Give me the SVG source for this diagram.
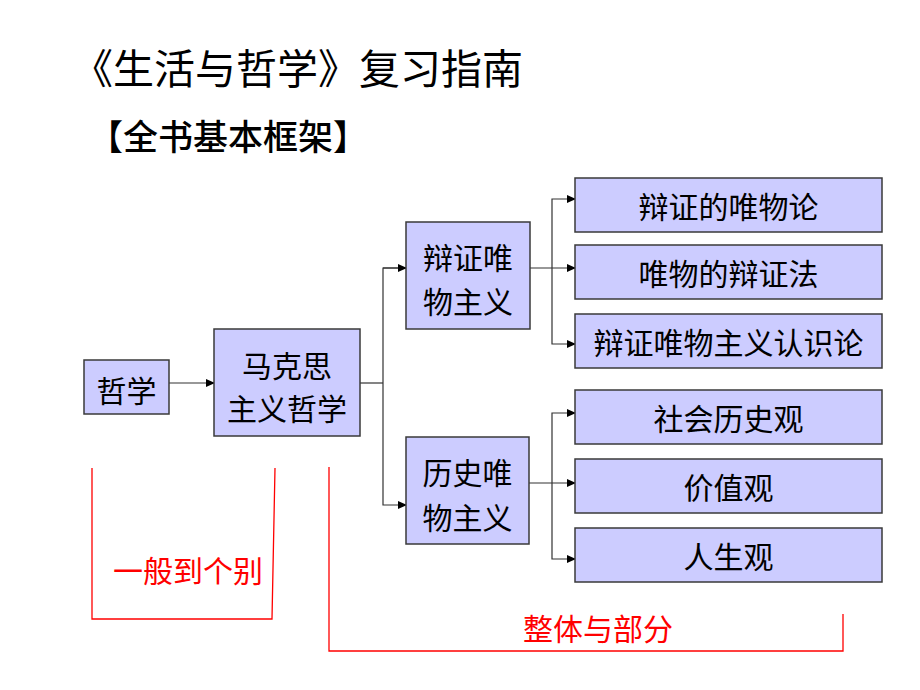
<svg xmlns="http://www.w3.org/2000/svg" width="920" height="690" viewBox="0 0 920 690">
<defs>
<marker id="ah" markerWidth="9" markerHeight="8" refX="8" refY="4" orient="auto" markerUnits="userSpaceOnUse">
<path d="M0,0 L9,4 L0,8 Z" fill="#000"/>
</marker>
</defs>
<style>
.box{fill:#ccccff;stroke:#3a3a3a;stroke-width:1.5}
.t{font-family:"Noto Sans CJK SC","Noto Sans CJK JP",sans-serif;font-size:30px;fill:#000;text-anchor:middle;dominant-baseline:central}
.c{fill:none;stroke:#333;stroke-width:1.2}
.r{fill:none;stroke:#ff0000;stroke-width:1.3}
.rt{font-family:"Noto Sans CJK SC",sans-serif;font-size:30px;fill:#ff0000;text-anchor:middle;dominant-baseline:central}
</style>
<rect width="920" height="690" fill="#fff"/>
<text x="72" y="84" font-family="'Noto Sans CJK SC',sans-serif" font-size="41" fill="#000">《生活与哲学》复习指南</text>
<text x="88" y="150" font-family="'Noto Sans CJK SC',sans-serif" font-size="35" font-weight="500" fill="#000">【全书基本框架】</text>

<g id="connectors">
<line class="c" x1="169" y1="383" x2="214" y2="383" marker-end="url(#ah)"/>
<polyline class="c" points="360,383 383,383"/>
<polyline class="c" points="406,268 383,268 383,505 406,505" marker-end="url(#ah)"/>
<line class="c" x1="383" y1="268" x2="406" y2="268" marker-end="url(#ah)"/>
<line class="c" x1="530" y1="268" x2="575" y2="268" marker-end="url(#ah)"/>
<polyline class="c" points="552,268 552,199 575,199" marker-end="url(#ah)"/>
<polyline class="c" points="552,268 552,344 575,344" marker-end="url(#ah)"/>
<line class="c" x1="529" y1="483" x2="575" y2="483" marker-end="url(#ah)"/>
<polyline class="c" points="552,483 552,413 575,413" marker-end="url(#ah)"/>
<polyline class="c" points="552,483 552,559 575,559" marker-end="url(#ah)"/>
</g>

<g id="n-zhexue"><rect class="box" x="84" y="360" width="85" height="54"/><text class="t" x="126.5" y="389">哲学</text></g>
<g id="n-makesi"><rect class="box" x="214" y="329" width="146" height="107"/><text class="t" x="287" y="364">马克思</text><text class="t" x="287" y="407">主义哲学</text></g>
<g id="n-bianzheng"><rect class="box" x="406" y="222" width="124" height="107"/><text class="t" x="468" y="256">辩证唯</text><text class="t" x="468" y="300">物主义</text></g>
<g id="n-lishi"><rect class="box" x="406" y="437" width="123" height="107"/><text class="t" x="467.5" y="471">历史唯</text><text class="t" x="467.5" y="516">物主义</text></g>
<g id="n-1"><rect class="box" x="575" y="178" width="307" height="54"/><text class="t" x="728.5" y="205">辩证的唯物论</text></g>
<g id="n-2"><rect class="box" x="575" y="245" width="307" height="54"/><text class="t" x="728.5" y="272">唯物的辩证法</text></g>
<g id="n-3"><rect class="box" x="575" y="314" width="307" height="54"/><text class="t" x="728.5" y="341">辩证唯物主义认识论</text></g>
<g id="n-4"><rect class="box" x="575" y="390" width="307" height="54"/><text class="t" x="728.5" y="417">社会历史观</text></g>
<g id="n-5"><rect class="box" x="575" y="459" width="307" height="54"/><text class="t" x="728.5" y="486">价值观</text></g>
<g id="n-6"><rect class="box" x="575" y="528" width="307" height="54"/><text class="t" x="728.5" y="555">人生观</text></g>

<g id="brackets">
<polyline class="r" points="92,468 92,619 272,619 275,468"/>
<text class="rt" x="188" y="569">一般到个别</text>
<polyline class="r" points="329,467 329,651 843,651 843,614"/>
<text class="rt" x="598" y="627">整体与部分</text>
</g>
</svg>
